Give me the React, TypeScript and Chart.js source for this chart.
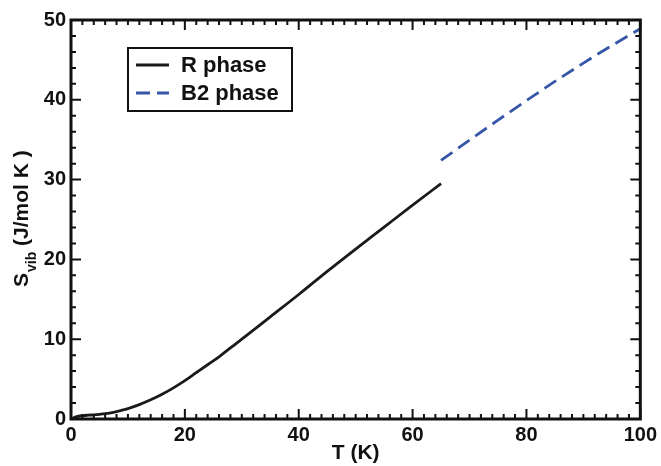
import React, { useEffect, useRef } from "react";
import { Chart, registerables } from "chart.js";

Chart.register(...registerables);

const rPhaseT = [0, 1, 2, 3, 4, 5, 6, 7, 8, 9, 10, 12, 14, 16, 18, 20, 22, 24, 26, 28, 30, 35, 40, 45, 50, 55, 60, 65];
const rPhaseS = [0, 0.3, 0.42, 0.48, 0.52, 0.58, 0.66, 0.78, 0.93, 1.1, 1.3, 1.8, 2.4, 3.1, 3.9, 4.8, 5.8, 6.8, 7.8, 8.9, 10.0, 12.8, 15.6, 18.5, 21.3, 24.05, 26.8, 29.5];
const b2PhaseT = [65, 70, 75, 80, 85, 90, 95, 100];
const b2PhaseS = [32.4, 34.95, 37.45, 39.9, 42.3, 44.6, 46.8, 48.9];

const seriesLabels = ["R phase", "B2 phase"];
const xTitle = "T (K)";
const yTitleMain = "S";
const yTitleSub = "vib";
const yTitleRest = " (J/mol K )";

const FONT = "'Liberation Sans', Arial, Helvetica, sans-serif";
const BLUE = "#3656a8";
const BLACK = "#1a1a1a";

const decorPlugin = {
  id: "decor",
  afterDraw(chart: any) {
    const { ctx, chartArea } = chart;
    const { left, right, top, bottom } = chartArea;
    const xs = chart.scales.x;
    const ys = chart.scales.y;
    ctx.save();
    ctx.strokeStyle = "#111";
    // ticks
    ctx.lineWidth = 2;
    for (let v = 0; v <= 100; v += 2) {
      const px = xs.getPixelForValue(v);
      const len = v % 20 === 0 ? 10 : 5;
      ctx.beginPath();
      ctx.moveTo(px, bottom);
      ctx.lineTo(px, bottom - len);
      ctx.moveTo(px, top);
      ctx.lineTo(px, top + len);
      ctx.stroke();
    }
    for (let v = 0; v <= 50; v += 2) {
      const py = ys.getPixelForValue(v);
      const len = v % 10 === 0 ? 10 : 5;
      ctx.beginPath();
      ctx.moveTo(left, py);
      ctx.lineTo(left + len, py);
      ctx.moveTo(right, py);
      ctx.lineTo(right - len, py);
      ctx.stroke();
    }
    // frame
    ctx.lineWidth = 3;
    ctx.strokeRect(left, top, right - left, bottom - top);

    // legend
    const bx = 128, by = 48, bw = 164, bh = 63;
    ctx.fillStyle = "#fff";
    ctx.fillRect(bx, by, bw, bh);
    ctx.lineWidth = 2;
    ctx.strokeStyle = "#111";
    ctx.strokeRect(bx, by, bw, bh);
    const rows = [65, 93];
    chart.data.datasets.forEach((ds: any, i: number) => {
      const y = rows[i];
      ctx.save();
      ctx.strokeStyle = ds.borderColor;
      ctx.lineWidth = ds.borderWidth;
      ctx.setLineDash(ds.borderDash || []);
      ctx.beginPath();
      ctx.moveTo(136, y);
      ctx.lineTo(169, y);
      ctx.stroke();
      ctx.restore();
      ctx.fillStyle = "#111";
      ctx.font = `bold 22px ${FONT}`;
      ctx.textBaseline = "alphabetic";
      ctx.textAlign = "left";
      ctx.fillText(ds.label, 181, y + 7);
    });

    // y title
    ctx.save();
    ctx.translate(28, 287);
    ctx.rotate(-Math.PI / 2);
    ctx.fillStyle = "#111";
    ctx.textBaseline = "alphabetic";
    ctx.textAlign = "left";
    ctx.font = `bold 21px ${FONT}`;
    ctx.fillText(yTitleMain, 0, 0);
    let w = ctx.measureText(yTitleMain).width;
    ctx.font = `bold 14px ${FONT}`;
    ctx.fillText(yTitleSub, w + 1, 8);
    w += 1 + ctx.measureText(yTitleSub).width;
    ctx.font = `bold 21px ${FONT}`;
    ctx.fillText(yTitleRest, w, 0);
    ctx.restore();

    ctx.restore();
  },
};

export default function App() {
  const ref = useRef<HTMLCanvasElement>(null);
  useEffect(() => {
    document.body.style.margin = "0";
    const canvas = ref.current!;
    const chart = new Chart(canvas, {
      type: "line",
      data: {
        datasets: [
          {
            label: seriesLabels[0],
            data: rPhaseT.map((t, i) => ({ x: t, y: rPhaseS[i] })),
            borderColor: BLACK,
            borderWidth: 2.8,
            pointRadius: 0,
            cubicInterpolationMode: "monotone",
            fill: false,
          },
          {
            label: seriesLabels[1],
            data: b2PhaseT.map((t, i) => ({ x: t, y: b2PhaseS[i] })),
            borderColor: BLUE,
            borderWidth: 2.8,
            borderDash: [14, 7],
            pointRadius: 0,
            cubicInterpolationMode: "monotone",
            fill: false,
          },
        ],
      },
      options: {
        responsive: false,
        animation: false,
        layout: { padding: { top: 20, right: 20, left: 0, bottom: 0 } },
        plugins: { legend: { display: false }, tooltip: { enabled: false } },
        scales: {
          x: {
            type: "linear",
            min: 0,
            max: 100,
            grid: { display: false, drawTicks: false },
            border: { display: false },
            ticks: { stepSize: 20, padding: 4, color: "#111", font: { family: FONT, size: 20, weight: "bold" } },
            title: { display: true, text: xTitle, color: "#111", padding: { top: 0, bottom: 0 }, font: { family: FONT, size: 21, weight: "bold" } },
            afterFit: (s: any) => { s.height = 47; },
          },
          y: {
            type: "linear",
            min: 0,
            max: 50,
            grid: { display: false, drawTicks: false },
            border: { display: false },
            ticks: { stepSize: 10, padding: 5, color: "#111", font: { family: FONT, size: 20, weight: "bold" } },
            afterFit: (s: any) => { s.width = 71; },
          },
        },
      },
      plugins: [decorPlugin],
    } as any);
    return () => chart.destroy();
  }, []);
  return (
    <div style={{ width: 661, height: 466 }}>
      <canvas ref={ref} width={661} height={466} />
    </div>
  );
}
